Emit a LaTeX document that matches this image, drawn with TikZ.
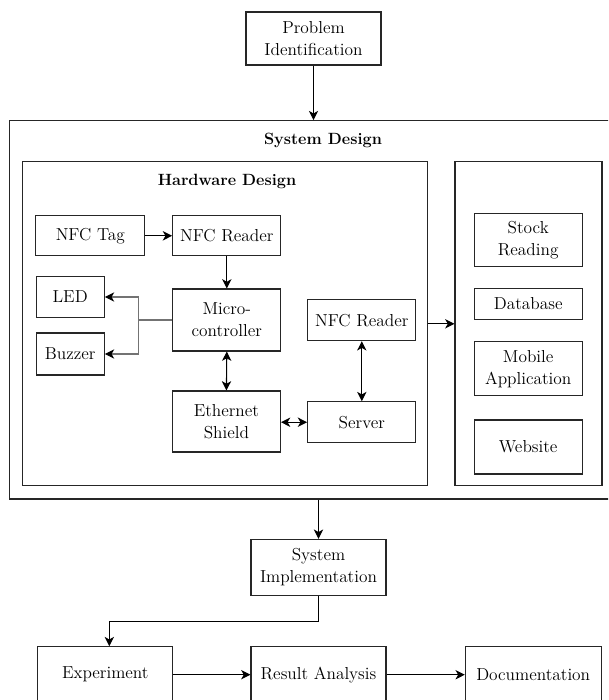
\documentclass[tikz,border=0pt]{standalone}
\usetikzlibrary{arrows.meta,calc}
\tikzset{
  bx/.style 2 args={draw=black!85, line width=0.8pt, minimum width=#1*0.75pt, minimum height=#2*0.75pt, inner sep=0pt, align=center, font=\fontsize{13}{16.5}\selectfont},
  ttl/.style={font=\fontsize{12.2}{15}\selectfont\bfseries, inner sep=0pt},
  arr/.style={line width=0.8pt, -{Stealth[length=7pt,width=7pt,inset=2pt]}},
  darr/.style={line width=0.8pt, {Stealth[length=7pt,width=7pt,inset=2pt]}-{Stealth[length=7pt,width=7pt,inset=2pt]}},
  garr/.style={line width=0.8pt, draw=black!55, -{Stealth[length=7pt,width=7pt,inset=2pt,black]}},
}
\begin{document}
\begin{tikzpicture}[x=0.75pt,y=-0.75pt]
\useasboundingbox (0,0) rectangle (608,700);
\clip (0,0) rectangle (608,700);
% boxes
\node[bx={135}{53}] (prob) at (313.5,38.5) {Problem\\Identification};
\node[bx={610}{378.3}] (outer) at (314.3,309.85) {};
\node[ttl] (sdt) at (323,140) {System Design};
\node[bx={405.3}{324.3}] (hw) at (225.3,323.8) {};
\node[ttl] (hwt) at (227,181) {Hardware Design};
\node[bx={147}{324.3}] (sw) at (528.5,323.8) {};
\node[bx={108.7}{40.3}] (tag) at (90.3,235.8) {NFC Tag};
\node[bx={108.3}{40.3}] (rd1) at (226.8,235.8) {NFC Reader};
\node[bx={68.3}{40.6}] (led) at (70.2,297) {LED};
\node[bx={68.3}{42}] (buz) at (70.2,354) {Buzzer};
\node[bx={108.3}{62}] (mcu) at (226.8,320) {Micro-\\controller};
\node[bx={108.3}{40.7}] (rd2) at (361.8,320.3) {NFC Reader};
\node[bx={108}{61}] (eth) at (226.4,421.5) {Ethernet\\Shield};
\node[bx={108.3}{41}] (srv) at (361.8,422.2) {Server};
\node[bx={108.3}{53.4}] (stk) at (528.2,240) {Stock\\Reading};
\node[bx={108.3}{30.7}] (db) at (528.2,303.7) {Database};
\node[bx={108.3}{54}] (mob) at (528.2,368.7) {Mobile\\Application};
\node[bx={108.3}{54}] (web) at (528.2,447) {Website};
\node[bx={135}{56.4}] (impl) at (318.5,567.5) {System\\Implementation};
\node[bx={135.3}{56}] (exp) at (105.3,674.7) {Experiment};
\node[bx={135}{56}] (res) at (318.5,674.7) {Result Analysis};
\node[bx={135.7}{56}] (doc) at (533.2,674.7) {Documentation};
% connectors
\draw[arr] (prob.south) -- (prob.south |- outer.north);
\draw[arr] (tag.east) -- (rd1.west);
\draw[arr] (rd1.south) -- (mcu.north);
\draw[garr] (mcu.west) -- ++(-33.7,0) |- (led.east);
\draw[garr] (mcu.west) -- ++(-33.7,0) |- (buz.east);
\draw[darr] (mcu.south) -- (eth.north);
\draw[darr] (rd2.south) -- (srv.north);
\draw[darr] (eth.east |- srv.west) -- (srv.west);
\draw[arr] (hw.east) -- (sw.west);
\draw[arr] (impl.north |- outer.south) -- (impl.north);
\draw[arr] (impl.south) -- ++(0,25.5) -| ([xshift=3pt]exp.north);
\draw[arr] (exp.east) -- (res.west);
\draw[arr] (res.east) -- (doc.west);
\end{tikzpicture}
\end{document}
